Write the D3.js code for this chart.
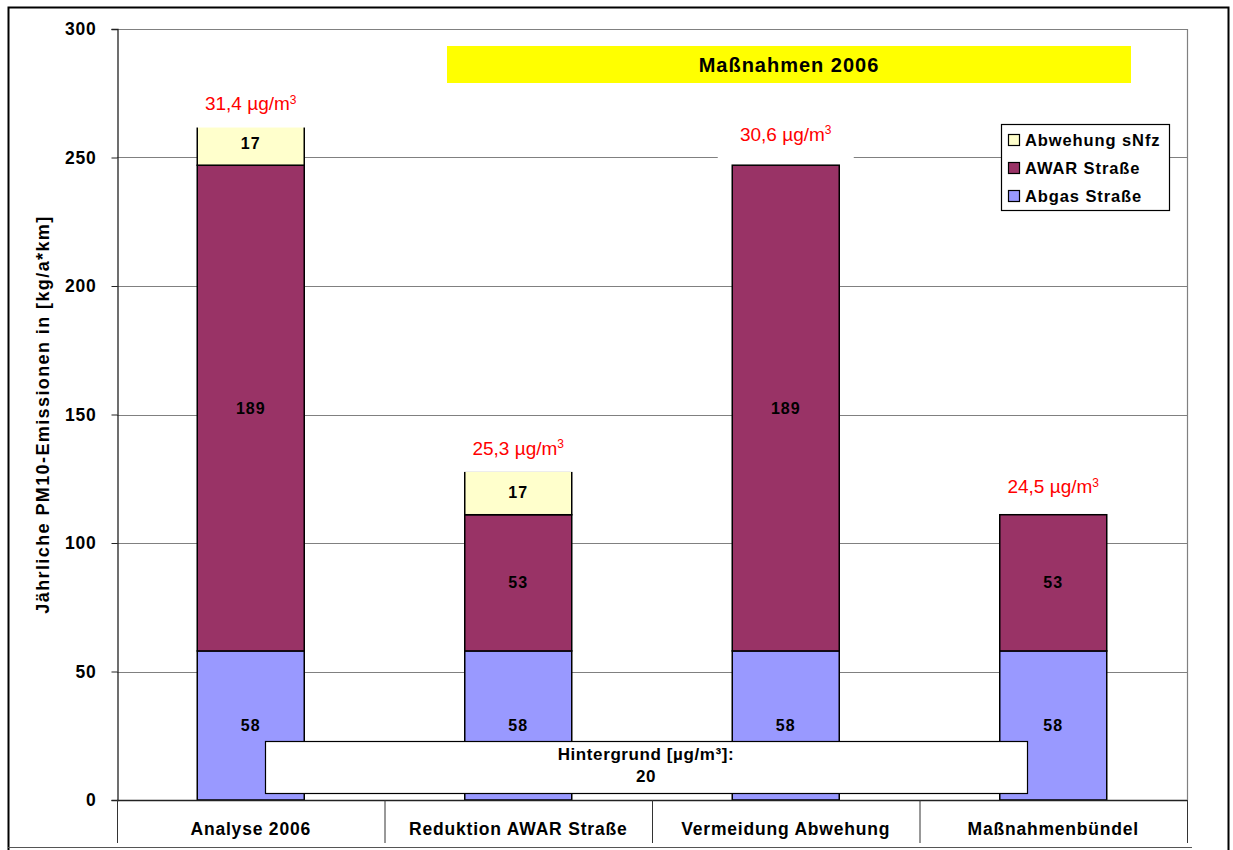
<!DOCTYPE html>
<html><head><meta charset="utf-8">
<script src="https://cdn.jsdelivr.net/npm/d3@7"></script>
<style>body{margin:0;background:#fff}svg{font-family:"Liberation Sans",Arial,sans-serif}</style>
</head><body>
<svg id="c" width="1233" height="850"></svg>
<script>
const categories = ["Analyse 2006", "Reduktion AWAR Straße", "Vermeidung Abwehung", "Maßnahmenbündel"];
const seriesNames = ["Abgas Straße", "AWAR Straße", "Abwehung sNfz"];
const abgas = [58, 58, 58, 58];
const awar = [189, 53, 189, 53];
const abwehung = [17, 17, 0, 0];
const concLabels = ["31,4 µg/m", "25,3 µg/m", "30,6 µg/m", "24,5 µg/m"];
const concLabelY = [271, 137, 259, 122];
const yTicks = [0, 50, 100, 150, 200, 250, 300];
const colors = ["#9999FF", "#993366", "#FFFFCC"];

const svg = d3.select("#c");
const L = 117, R = 1187, T = 29, B = 800;
const x = d3.scaleBand().domain(categories).range([L, R]).paddingInner(0).paddingOuter(0);
const y = d3.scaleLinear().domain([0, 300]).range([B, T]);
const bw = x.bandwidth() * 0.4;

// outer frame
svg.append("path").attr("d", "M8.5,850 V7.5 H1228.5 V850").attr("fill","none").attr("stroke","#000").attr("stroke-width",2);
svg.append("line").attr("x1",8).attr("x2",1192).attr("y1",847.5).attr("y2",847.5).attr("stroke","#555").attr("stroke-width",1);

// gridlines
svg.append("g").selectAll("line").data(yTicks.filter(d=>d>0)).join("line")
  .attr("x1", L).attr("x2", R).attr("y1", d=>Math.round(y(d))+0.5).attr("y2", d=>Math.round(y(d))+0.5)
  .attr("stroke", "#808080").attr("stroke-width", 1.2);
svg.append("line").attr("x1",R+0.5).attr("x2",R+0.5).attr("y1",T).attr("y2",B).attr("stroke","#808080").attr("stroke-width",1.2);

// y axis
const yAxis = d3.axisLeft(y).tickValues(yTicks).tickSize(6).tickPadding(15);
const ga = svg.append("g").attr("transform", `translate(${L+0.5},0)`).call(yAxis);
ga.select(".domain").attr("stroke","#222").attr("stroke-width",1.3);
ga.selectAll(".tick line").attr("stroke","#222");
ga.selectAll(".tick text").attr("font-size", 17.5).attr("letter-spacing", 0.8).attr("font-weight","bold").attr("fill","#000").attr("font-family","Liberation Sans, Arial");

svg.append("text").attr("transform", `translate(49,${(T+B)/2}) rotate(-90)`).attr("text-anchor","middle")
  .attr("font-size",18).attr("letter-spacing",1.4).attr("font-weight","bold").text("Jährliche PM10-Emissionen in [kg/a*km]");

// stacked bars
const rows = categories.map((c,i)=>({cat:c, "Abgas Straße":abgas[i], "AWAR Straße":awar[i], "Abwehung sNfz":abwehung[i]}));
const stack = d3.stack().keys(seriesNames)(rows);
stack.forEach((s, si) => {
  const g = svg.append("g");
  s.forEach((d, i) => {
    if (d[1]-d[0] <= 0) return;
    const cx = x(categories[i]) + x.bandwidth()/2;
    g.append("rect").attr("x", cx - bw/2).attr("width", bw)
      .attr("y", y(d[1])).attr("height", y(d[0]) - y(d[1]))
      .attr("fill", colors[si]).attr("stroke", "#000").attr("stroke-width", 1.5);
  });
});
stack.forEach((s, si) => {
  s.forEach((d, i) => {
    if (d[1]-d[0] <= 0) return;
    const cx = x(categories[i]) + x.bandwidth()/2;
    svg.append("text").attr("x", cx).attr("y", y((d[0]+d[1])/2)).attr("dy","0.35em")
      .attr("text-anchor","middle").attr("font-size",16).attr("letter-spacing",1).attr("font-weight","bold").text(d[1]-d[0]);
  });
});

// concentration labels
concLabels.forEach((t, i) => {
  const cx = x(categories[i]) + x.bandwidth()/2;
  const yy = y(concLabelY[i]);
  svg.append("rect").attr("x", cx-68).attr("y", yy-20).attr("width", 136).attr("height", 44).attr("fill","#fff");
  const tx = svg.append("text").attr("x", cx).attr("y", yy).attr("dy","0.35em").attr("text-anchor","middle")
    .attr("font-size",19).attr("fill","#FF0000");
  tx.append("tspan").text(t);
  tx.append("tspan").attr("dy","-0.55em").attr("font-size",12).text("3");
});

// zero line
svg.append("line").attr("x1",L).attr("x2",R).attr("y1",B+0.5).attr("y2",B+0.5).attr("stroke","#222").attr("stroke-width",1.5);

// category axis
const gx = svg.append("g");
gx.selectAll("line").data(categories.map(c=>x(c)).concat([R])).join("line")
  .attr("x1", d=>d+0.5).attr("x2", d=>d+0.5).attr("y1", B).attr("y2", 843).attr("stroke","#333").attr("stroke-width",1);
gx.selectAll("text").data(categories).join("text")
  .attr("x", d=>x(d)+x.bandwidth()/2).attr("y", 829).attr("dy","0.35em").attr("text-anchor","middle")
  .attr("font-size",17.5).attr("letter-spacing",0.8).attr("font-weight","bold").text(d=>d);

// title box
svg.append("rect").attr("x",447).attr("y",46).attr("width",684).attr("height",37).attr("fill","#FFFF00");
svg.append("text").attr("x",789).attr("y",64.5).attr("dy","0.35em").attr("text-anchor","middle")
  .attr("font-size",20).attr("letter-spacing",1).attr("font-weight","bold").text("Maßnahmen 2006");

// legend
const lg = svg.append("g");
lg.append("rect").attr("x",1001.5).attr("y",124.5).attr("width",168).attr("height",86).attr("fill","#fff").attr("stroke","#000").attr("stroke-width",1.2);
const legOrder = [2,1,0];
legOrder.forEach((si, k) => {
  const yy = 140 + k*28;
  lg.append("rect").attr("x",1008.5).attr("y",yy-5.5).attr("width",11).attr("height",11).attr("fill",colors[si]).attr("stroke","#000").attr("stroke-width",1.2);
  lg.append("text").attr("x",1025).attr("y",yy).attr("dy","0.35em").attr("font-size",16.5).attr("letter-spacing",0.9).attr("font-weight","bold").text(seriesNames[si]);
});

// background box
svg.append("rect").attr("x",265.5).attr("y",741.5).attr("width",762).attr("height",52).attr("fill","#fff").attr("stroke","#000").attr("stroke-width",1.2);
svg.append("text").attr("x",646).attr("y",754).attr("dy","0.35em").attr("text-anchor","middle").attr("font-size",17).attr("letter-spacing",0.6).attr("font-weight","bold").text("Hintergrund [µg/m³]:");
svg.append("text").attr("x",646).attr("y",776).attr("dy","0.35em").attr("text-anchor","middle").attr("font-size",17).attr("letter-spacing",0.6).attr("font-weight","bold").text("20");
</script>
</body></html>
